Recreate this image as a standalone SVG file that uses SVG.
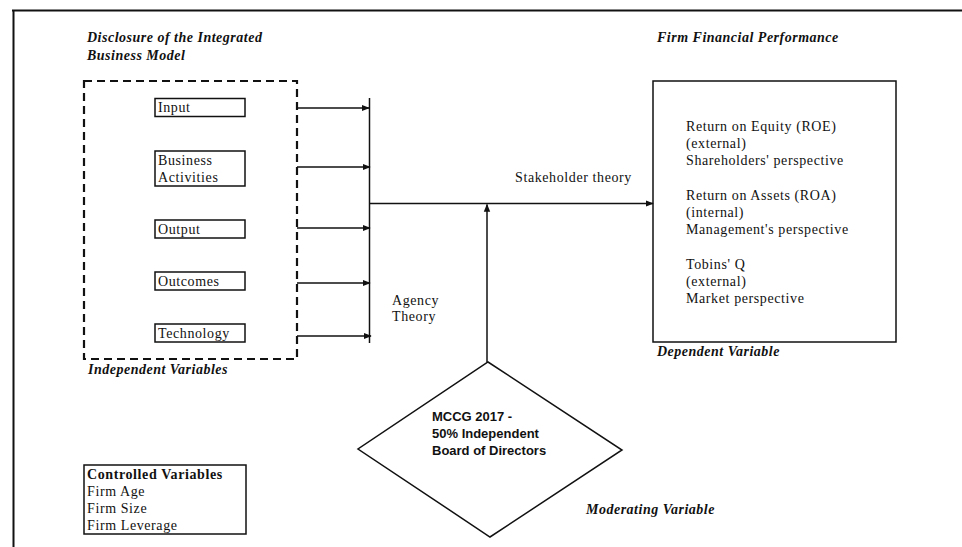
<svg xmlns="http://www.w3.org/2000/svg" width="962" height="547" viewBox="0 0 962 547">
<defs>
<style>
.t{font-family:"Liberation Serif","Times New Roman",serif;font-size:14px;letter-spacing:0.6px;fill:#111}
.h{font-family:"Liberation Serif","Times New Roman",serif;font-size:14px;letter-spacing:0.5px;font-weight:bold;font-style:italic;fill:#111}
.d{font-family:"Liberation Sans",Arial,sans-serif;font-size:13px;font-weight:bold;fill:#111}
.box{fill:#fff;stroke:#111;stroke-width:1.5}
.ln{fill:none;stroke:#111;stroke-width:1.5}
</style>
<marker id="ah" viewBox="0 0 10 10" refX="9" refY="5" markerWidth="8" markerHeight="8" markerUnits="userSpaceOnUse" orient="auto">
<path d="M0,1 L10,5 L0,9 Z" fill="#111"/>
</marker>
</defs>
<rect width="962" height="547" fill="#fff"/>
<g id="frame">
<line x1="12" y1="10.5" x2="962" y2="10.5" stroke="#111" stroke-width="2"/>
<line x1="13.5" y1="10" x2="13.5" y2="547" stroke="#111" stroke-width="2"/>
</g>
<g id="independent">
<text class="h" x="87" y="42">Disclosure of the Integrated</text>
<text class="h" x="87" y="60">Business Model</text>
<rect x="84" y="81" width="213" height="278" fill="none" stroke="#111" stroke-width="2.2" stroke-dasharray="8,5"/>
<text class="h" x="88" y="374">Independent Variables</text>
</g>
<g id="input"><rect class="box" x="155" y="98.5" width="90" height="18"/><text class="t" x="158" y="112">Input</text></g>
<g id="business"><rect class="box" x="155" y="151" width="90" height="35"/><text class="t" x="158" y="165">Business</text><text class="t" x="158" y="182">Activities</text></g>
<g id="output"><rect class="box" x="155" y="220" width="90" height="18"/><text class="t" x="158" y="234">Output</text></g>
<g id="outcomes"><rect class="box" x="155" y="272" width="90" height="18"/><text class="t" x="158" y="286">Outcomes</text></g>
<g id="technology"><rect class="box" x="155" y="324" width="90" height="18"/><text class="t" x="158" y="338">Technology</text></g>
<g id="performance">
<text class="h" x="657" y="42">Firm Financial Performance</text>
<rect class="box" x="653" y="81" width="243" height="261"/>
<text class="t" x="686" y="131">Return on Equity (ROE)</text>
<text class="t" x="686" y="148">(external)</text>
<text class="t" x="686" y="165">Shareholders' perspective</text>
<text class="t" x="686" y="200">Return on Assets (ROA)</text>
<text class="t" x="686" y="217">(internal)</text>
<text class="t" x="686" y="234">Management's perspective</text>
<text class="t" x="686" y="269">Tobins' Q</text>
<text class="t" x="686" y="286">(external)</text>
<text class="t" x="686" y="303">Market perspective</text>
<text class="h" x="657" y="356">Dependent Variable</text>
</g>
<g id="moderator">
<polygon class="box" points="488,362 622,450 490,537 358,449"/>
<text class="d" x="432" y="421">MCCG 2017 -</text>
<text class="d" x="432" y="438">50% Independent</text>
<text class="d" x="432" y="455">Board of Directors</text>
<text class="h" x="586" y="514">Moderating Variable</text>
</g>
<g id="controlled">
<rect class="box" x="84" y="465" width="162" height="69"/>
<text class="t" x="87" y="479" font-weight="bold" letter-spacing="0.4">Controlled Variables</text>
<text class="t" x="87" y="496">Firm Age</text>
<text class="t" x="87" y="513">Firm Size</text>
<text class="t" x="87" y="530">Firm Leverage</text>
</g>
<g id="connectors">
<line class="ln" x1="369.5" y1="98" x2="369.5" y2="343"/>
<line class="ln" x1="297" y1="108" x2="369" y2="108" marker-end="url(#ah)"/>
<line class="ln" x1="297" y1="167" x2="370" y2="167" marker-end="url(#ah)"/>
<line class="ln" x1="297" y1="228" x2="370" y2="228" marker-end="url(#ah)"/>
<line class="ln" x1="297" y1="283" x2="370" y2="283" marker-end="url(#ah)"/>
<line class="ln" x1="297" y1="336" x2="371" y2="336" marker-end="url(#ah)"/>
<line class="ln" x1="370" y1="203.5" x2="653" y2="203.5" marker-end="url(#ah)"/>
<line class="ln" x1="487" y1="362" x2="487" y2="204.5" marker-end="url(#ah)"/>
<text class="t" x="515" y="182">Stakeholder theory</text>
<text class="t" x="392" y="305">Agency</text>
<text class="t" x="392" y="321">Theory</text>
</g>
</svg>
